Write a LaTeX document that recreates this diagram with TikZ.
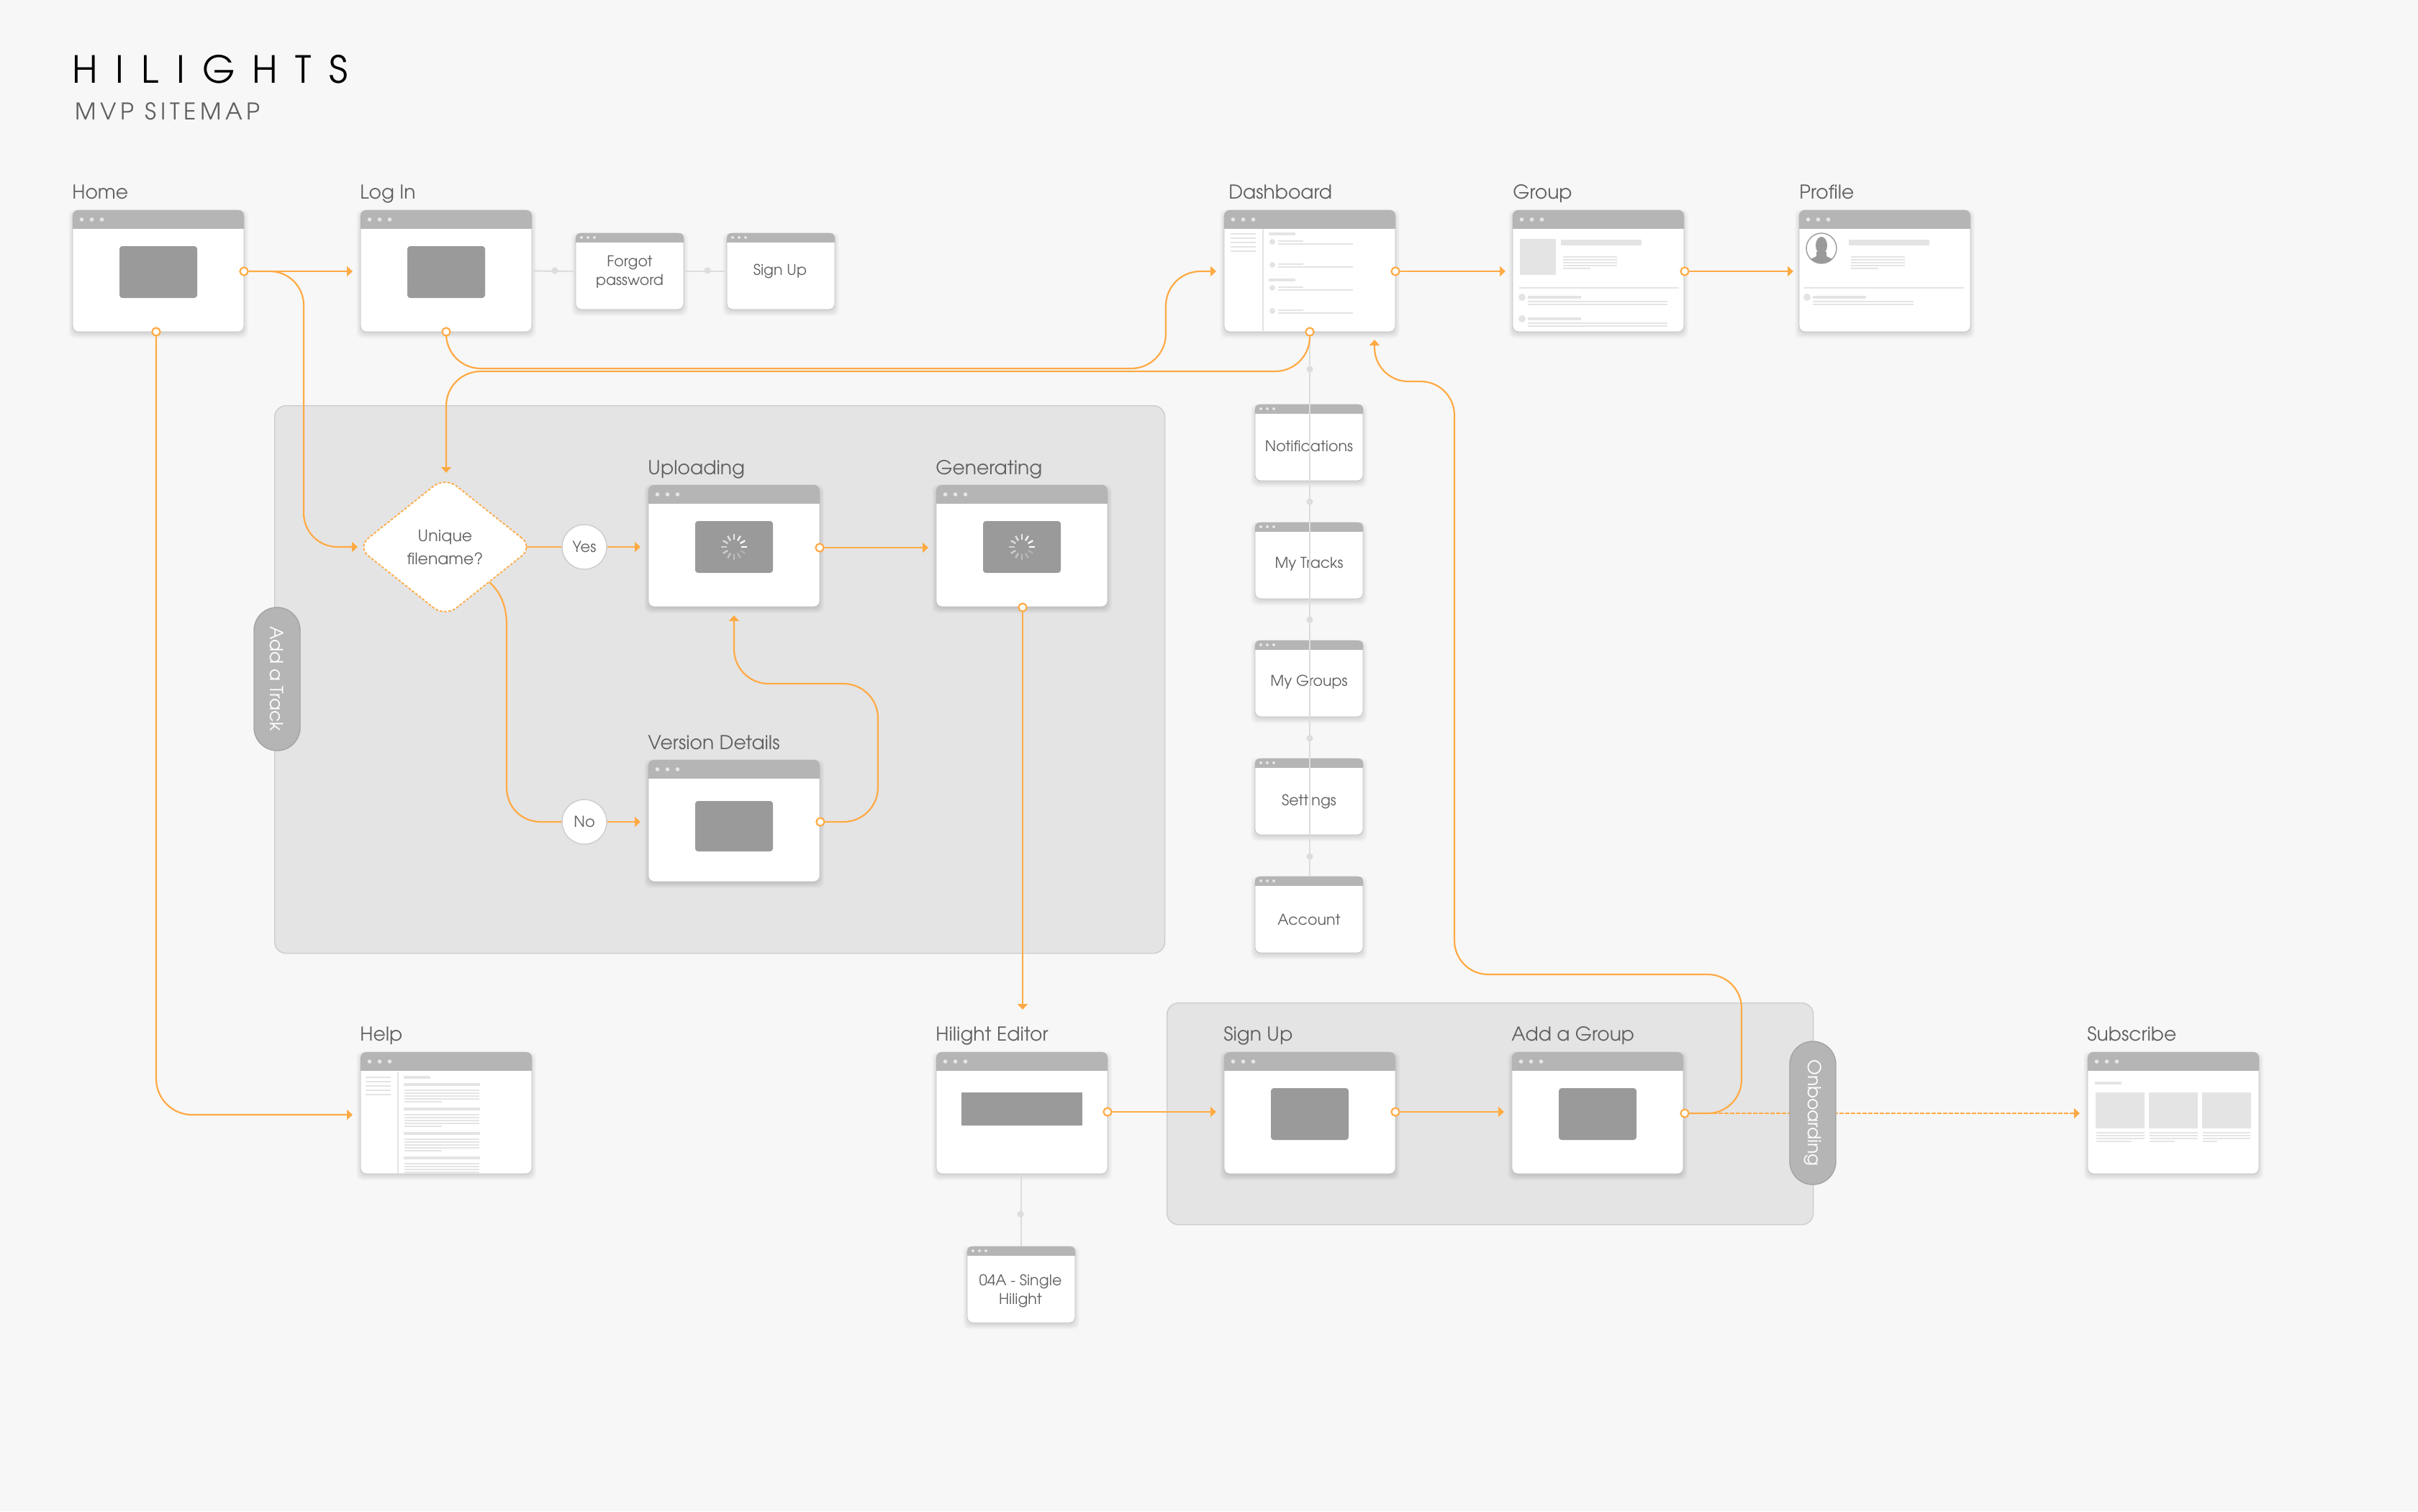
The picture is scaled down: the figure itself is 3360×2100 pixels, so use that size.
\documentclass[tikz,border=0pt]{standalone}
\usepackage{fontspec}
\setmainfont{TeX Gyre Adventor}
\usetikzlibrary{arrows.meta,shapes.geometric,calc}
\definecolor{bgc}{HTML}{F7F7F7}
\definecolor{grpc}{HTML}{E4E4E4}
\definecolor{grpe}{HTML}{CCCCCC}
\definecolor{hdrc}{HTML}{B5B5B5}
\definecolor{pilled}{HTML}{A3A3A3}
\definecolor{dotc}{HTML}{E6E6E6}
\definecolor{blockc}{HTML}{9A9A9A}
\definecolor{phc}{HTML}{E4E4E4}
\definecolor{orng}{HTML}{FFAA44}
\definecolor{txtc}{HTML}{606060}
\definecolor{linkc}{HTML}{DDDDDD}
\tikzset{
  winbody/.style={draw=black!25,line width=.35pt,fill=white,rounded corners=4pt,inner sep=0pt,outer sep=0pt,anchor=north west},
  grp/.style={draw=grpe,line width=.7pt,fill=grpc,rounded corners=8pt,inner sep=0pt,anchor=north west},
  pillbox/.style={draw=pilled,line width=.7pt,fill=hdrc,rounded corners=16pt,rotate=-90,minimum height=32pt,minimum width=99.5pt,inner sep=0pt,text=white,font=\fontsize{12.5}{14}\selectfont},
  winlabel/.style={anchor=base west,inner sep=0pt,text=txtc,font=\fontsize{13.3}{15}\selectfont},
  wintext/.style={align=center,inner sep=0pt,text=txtc,font=\fontsize{10.3}{13}\selectfont},
  conn/.style={draw=orng,line width=1.1pt},
  arr/.style={conn,-{Triangle[length=4pt,width=7pt]}},
  port/.style={circle,draw=orng,line width=1pt,fill=white,minimum size=5.5pt,inner sep=0pt},
  link/.style={draw=linkc,line width=1.1pt},
  linkdot/.style={circle,fill=linkc,minimum size=4.6pt,inner sep=0pt},
  answer/.style={circle,draw=grpe,line width=.7pt,fill=white,minimum size=31pt,inner sep=0pt,text=txtc,font=\fontsize{10.5}{13}\selectfont},
  ph/.style={fill=phc},
  block/.style={fill=blockc,rounded corners=2pt}
}
\newcommand{\hb}[4]{\fill[ph] (#1,#3-#4/2) rectangle (#2,#3+#4/2);}
\newcommand{\softshadow}[4]{\foreach \i in {1,...,9}{\fill[black,opacity=.014,rounded corners=4pt] (#1+3-\i,#2+8-\i) rectangle (#1+#3-3+\i,#2+#4+\i);}}
\newcommand{\bigwin}[3]{%
  \softshadow{#2}{#3}{238}{169}
  \node[winbody,minimum width=119pt,minimum height=84.5pt] (#1) at (#2,#3) {};
  \begin{scope}\clip (#2,#3) rectangle (#2+238,#3+25);\fill[hdrc,rounded corners=4pt] (#2,#3) rectangle (#2+238,#3+50);\end{scope}
  \fill[dotc] (#2+12.5,#3+13) circle[radius=2.8] (#2+26.5,#3+13) circle[radius=2.8] (#2+40.5,#3+13) circle[radius=2.8];
}
\newcommand{\smallwin}[3]{%
  \softshadow{#2}{#3}{150}{106}
  \node[winbody,minimum width=75pt,minimum height=53pt] (#1) at (#2,#3) {};
  \begin{scope}\clip (#2,#3) rectangle (#2+150,#3+12);\fill[hdrc,rounded corners=3pt] (#2,#3) rectangle (#2+150,#3+30);\end{scope}
  \fill[dotc] (#2+8,#3+6) circle[radius=2] (#2+17,#3+6) circle[radius=2] (#2+26,#3+6) circle[radius=2];
}
\begin{document}
\begin{tikzpicture}[x=0.5pt,y=-0.5pt]
\useasboundingbox (0,0) rectangle (3360,2100);
\fill[bgc] (0,0) rectangle (3360,2100);

% title
\node[anchor=base west,inner sep=0pt,text=black,font=\fontsize{26}{30}\selectfont\addfontfeature{LetterSpace=47}] (title) at (100,115) {HILIGHTS};
\node[anchor=base west,inner sep=0pt,text=txtc,font=\fontsize{16}{20}\selectfont\addfontfeature{LetterSpace=18}] (subtitle) at (104,166) {MVP SITEMAP};

% groups
\node[grp,minimum width=618.5pt,minimum height=380.5pt] (trackgroup) at (381,563) {};
\node[grp,minimum width=449pt,minimum height=154pt] (boardgroup) at (1621,1393) {};

% windows
\bigwin{home}{101}{292}
\bigwin{login}{501}{292}
\smallwin{forgot}{800}{324}
\smallwin{signupsmall}{1010}{324}
\bigwin{dash}{1701}{292}
\bigwin{group}{2102}{292}
\bigwin{profile}{2500}{292}
\smallwin{notif}{1744}{562}
\smallwin{tracks}{1744}{726}
\smallwin{groups}{1744}{890}
\smallwin{settings}{1744}{1054}
\smallwin{account}{1744}{1218}
\bigwin{upload}{901}{674}
\bigwin{generate}{1301}{674}
\bigwin{version}{901}{1056}
\bigwin{help}{501}{1462}
\bigwin{editor}{1301}{1462}
\bigwin{signup}{1701}{1462}
\bigwin{addgroup}{2101}{1462}
\smallwin{single}{1344}{1732}
\bigwin{subscribe}{2901}{1462}

% window contents: blocks
\fill[block] (166,342) rectangle (274,414);
\fill[block] (566,342) rectangle (674,414);
\fill[block] (966,724) rectangle (1074,796);
\fill[block] (1366,724) rectangle (1474,796);
\fill[block] (966,1113) rectangle (1074,1183);
\fill[blockc] (1336,1518) rectangle (1504,1564);
\fill[block] (1766,1512) rectangle (1874,1584);
\fill[block] (2166,1512) rectangle (2274,1584);

% spinners
\foreach \cx in {1020,1420}{
  \foreach \k in {0,...,11}{
    \pgfmathsetmacro{\op}{1-\k/14}
    \pgfmathsetmacro{\ang}{\k*30}
    \draw[white,line width=1.2pt,opacity=\op] ($(\cx,760)+(\ang:5pt)$) -- ($(\cx,760)+(\ang:8.8pt)$);
  }
}

% dashboard contents
\fill[ph] (1754,318) rectangle (1756,460);
\foreach \yy in {325,331,337,343,349}{\hb{1710}{1745}{\yy}{2}}
\hb{1763}{1800}{325}{4}
\hb{1763}{1800}{389}{4}
\foreach \yy in {336,368,400,432}{
  \fill[ph] (1768,\yy) circle[radius=4];
  \hb{1776}{1811}{\yy-1}{2}
  \hb{1776}{1880}{\yy+3}{2}
}

% group contents
\fill[ph] (2112,332) rectangle (2162,382);
\fill[ph] (2169,333) rectangle (2281,341);
\foreach \yy in {357,361,365,369}{\hb{2172}{2247}{\yy}{2}}
\hb{2172}{2210}{373}{2}
\hb{2111}{2333}{400}{2}
\foreach \yy in {413,443}{
  \fill[ph] (2115,\yy) circle[radius=5];
  \hb{2123}{2197}{\yy}{4}
  \hb{2123}{2317}{\yy+6}{2}
  \hb{2123}{2317}{\yy+10}{2}
}

% profile contents
\begin{scope}
  \clip (2531,345) circle[radius=21];
  \fill[white] (2531,345) circle[radius=21];
  \fill[blockc] (2531,341) circle[x radius=8,y radius=12];
  \fill[blockc] (2524,350) -- (2524,356) -- (2510,363) -- (2505,370) -- (2557,370) -- (2552,363) -- (2538,356) -- (2538,350) -- cycle;
\end{scope}
\draw[blockc,line width=.7pt] (2531,345) circle[radius=21];
\fill[ph] (2569,333) rectangle (2681,341);
\foreach \yy in {357,361,365,369}{\hb{2572}{2647}{\yy}{2}}
\hb{2572}{2610}{373}{2}
\hb{2507}{2729}{400}{2}
\fill[ph] (2511,413) circle[radius=5];
\hb{2519}{2593}{413}{4}
\hb{2519}{2659}{419}{2}
\hb{2519}{2659}{423}{2}

% help contents
\fill[ph] (552,1490) rectangle (554,1631);
\foreach \yy in {1497,1503,1509,1515,1521}{\hb{508}{543}{\yy}{2}}
\hb{561}{598}{1497}{4}
\foreach \yy in {1507,1541,1575}{
  \hb{561}{667}{\yy}{4}
  \hb{562}{666}{\yy+8}{2}
  \hb{562}{666}{\yy+12}{2}
  \hb{562}{666}{\yy+16}{2}
  \hb{562}{666}{\yy+20}{2}
  \hb{562}{614}{\yy+24}{2}
}
\hb{561}{667}{1609}{4}
\foreach \yy in {1617,1621,1625,1629}{\hb{562}{666}{\yy}{2}}

% subscribe contents
\hb{2911}{2948}{1505}{4}
\fill[ph] (2912,1518) rectangle (2980,1568);
\fill[ph] (2986,1518) rectangle (3054,1568);
\fill[ph] (3060,1518) rectangle (3128,1568);
\foreach \yy in {1574,1578,1582}{
  \hb{2913}{2980}{\yy}{2}
  \hb{2987}{3054}{\yy}{2}
  \hb{3061}{3127}{\yy}{2}
}
\hb{2913}{2962}{1586}{2}
\hb{2987}{3022}{1586}{2}
\hb{3061}{3081}{1586}{2}

% window labels
\node[winlabel] (lhome) at (100,276) {Home};
\node[winlabel] (llogin) at (500,276) {Log In};
\node[winlabel] (ldash) at (1707,276) {Dashboard};
\node[winlabel] (lgroup) at (2102,276) {Group};
\node[winlabel] (lprofile) at (2500,276) {Profile};
\node[winlabel] (lupload) at (900,659) {Uploading};
\node[winlabel] (lgenerate) at (1300,659) {Generating};
\node[winlabel] (lversion) at (900,1041) {Version Details};
\node[winlabel] (lhelp) at (500,1446) {Help};
\node[winlabel] (leditor) at (1300,1446) {Hilight Editor};
\node[winlabel] (lsignup) at (1700,1446) {Sign Up};
\node[winlabel] (laddgroup) at (2100,1446) {Add a Group};
\node[winlabel] (lsubscribe) at (2900,1446) {Subscribe};

% small window texts
\node[wintext] (tforgot) at (875,378) {Forgot\\password};
\node[wintext] (tsignup) at (1084,377) {Sign Up};
\node[wintext] (tnotif) at (1819,620) {Notifications};
\node[wintext] (ttracks) at (1819,784) {My Tracks};
\node[wintext] (tgroups) at (1819,948) {My Groups};
\node[wintext] (tsettings) at (1819,1114) {Settings};
\node[wintext] (taccount) at (1819,1278) {Account};
\node[wintext] (tsingle) at (1418,1794) {04A - Single\\Hilight};

% grey links
\draw[link] (login.east) -- (forgot.west);
\draw[link] (forgot.east) -- (signupsmall.west);
\draw[link,line width=.9pt] (dash.south) -- (dash.south |- account.north);
\draw[link,line width=.9pt] (single.north |- editor.south) -- (single.north);
\node[linkdot] (g1) at (771,376) {};
\node[linkdot] (g2) at (983,376) {};
\node[linkdot] (g3) at (1820,513) {};
\node[linkdot] (g4) at (1820,697) {};
\node[linkdot] (g5) at (1820,861) {};
\node[linkdot] (g6) at (1820,1026) {};
\node[linkdot] (g7) at (1820,1190) {};
\node[linkdot] (g8) at (1418,1687) {};

% decision
\node[diamond,draw=orng,dash pattern=on 1.8pt off 1.2pt,line width=.9pt,fill=white,rounded corners=10pt,minimum width=122.5pt,minimum height=97.5pt,inner sep=0pt,align=center,text=txtc,font=\fontsize{11}{16}\selectfont] (decide) at (618.5,760) {Unique\\filename?};
\node[answer] (yes) at (812,760) {Yes};
\node[answer] (no) at (812,1142) {No};

% arrow ends
\coordinate (tlogin) at (490,377);
\coordinate (tdiamond) at (497,760);
\coordinate (thelp) at (490,1549);
\coordinate (tdash) at (1690,377);
\coordinate (tgroup) at (2092,377);
\coordinate (tprofile) at (2492,377);
\coordinate (tdecide) at (620,657);
\coordinate (tyes) at (890,760);
\coordinate (tno) at (890,1142);
\coordinate (tgen) at (1290,761);
\coordinate (tver) at (1020,855);
\coordinate (ted) at (1421,1403);
\coordinate (tsign) at (1690,1545);
\coordinate (tadd) at (2090,1545);
\coordinate (tsub) at (2890,1547);
\coordinate (tback) at (1910,472);

% ports
\node[port] (phomer) at (339,377) {};
\node[port] (phomeb) at (217,461) {};
\node[port] (ploginb) at (620,461) {};
\node[port] (pdashr) at (1939,377) {};
\node[port] (pdashb) at (1820,461) {};
\node[port] (pgroupr) at (2341,377) {};
\node[port] (puploadr) at (1139,761) {};
\node[port] (pgenb) at (1421,844) {};
\node[port] (pverr) at (1140,1142) {};
\node[port] (pedr) at (1539,1545) {};
\node[port] (psignr) at (1939,1545) {};
\node[port] (paddr) at (2341,1547) {};

% connectors
\draw[arr] (phomer) -- (tlogin);
\draw[arr,rounded corners=23.5pt] (phomer) -- (422,377) -- (422,760) -- (tdiamond);
\draw[arr,rounded corners=25pt] (phomeb) -- (217,1549) -- (thelp);
\draw[arr,rounded corners=24pt] (ploginb) -- (620,512) -- (1620,512) -- (1620,377) -- (tdash);
\draw[arr,rounded corners=24pt] (pdashb) -- (1820,516) -- (620,516) -- (tdecide);
\draw[arr] (pdashr) -- (tgroup);
\draw[arr] (pgroupr) -- (tprofile);
\draw[conn] ([xshift=-5.5pt]decide.east) -- (yes.west);
\draw[arr] (yes.east) -- (tyes);
\draw[conn] (decide.south east) .. controls (695,822) and (704,842) .. (704,868) -- (704,1094) .. controls (704,1122) and (725,1142) .. (752,1142) -- (no.west);
\draw[arr] (no.east) -- (tno);
\draw[arr] (puploadr) -- (tgen);
\draw[arr,rounded corners=24pt] (pverr) -- (1220,1142) -- (1220,950) -- (1020,950) -- (tver);
\draw[arr] (pgenb) -- (ted);
\draw[arr] (pedr) -- (tsign);
\draw[arr] (psignr) -- (tadd);
\draw[arr,rounded corners=23.5pt] (paddr) -- (2420,1547) -- (2420,1354) -- (2021,1354) -- (2021,530) -- (1910,530) -- (tback);
\draw[arr,line width=1.4pt,dash pattern=on 3pt off 1pt] (paddr) -- (tsub);

% redraw ports above connectors
\node[port] at (phomer) {};
\node[port] at (phomeb) {};
\node[port] at (ploginb) {};
\node[port] at (pdashr) {};
\node[port] at (pdashb) {};
\node[port] at (pgroupr) {};
\node[port] at (puploadr) {};
\node[port] at (pgenb) {};
\node[port] at (pverr) {};
\node[port] at (pedr) {};
\node[port] at (psignr) {};
\node[port] at (paddr) {};

% side pills
\node[pillbox] (addtrack) at (385,943.5) {Add a Track};
\node[pillbox] (onboard) at (2519,1546.5) {Onboarding};
\end{tikzpicture}
\end{document}
